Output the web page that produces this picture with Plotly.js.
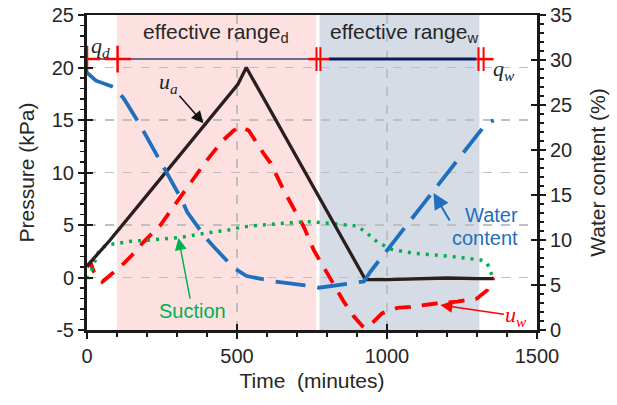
<!DOCTYPE html>
<html><head><meta charset="utf-8">
<script src="https://cdn.plot.ly/plotly-3.0.1.min.js"></script>
<style>html,body{margin:0;padding:0;background:#fff}#chart{width:617px;height:405px}</style>
</head><body><div id="chart"></div>
<script>
// ---- data (time in minutes) ----
const uaTime = [0, 75, 200, 389, 490, 503, 531, 928, 1000, 1100, 1200, 1300, 1355];
const uaKPa  = [1.1, 3.5, 7.85, 14.4, 18.0, 18.4, 20.0, -0.2, -0.2, -0.1, -0.05, -0.1, -0.1];

const uwTime = [0, 12, 22, 51, 89, 123, 156, 189, 245, 315, 367, 395, 451, 489, 509, 539, 589, 612, 656, 723, 756, 812, 856, 889, 917, 928, 945, 984, 1034, 1078, 1156, 1234, 1300, 1334, 1345, 1356];
const uwKPa  = [1.0, 1.4, 0.6, -0.4, 0.5, 1.35, 2.3, 3.4, 5.0, 7.8, 9.9, 11.0, 13.0, 14.0, 14.4, 14.0, 11.8, 10.9, 8.3, 4.8, 2.6, -0.24, -2.3, -3.7, -4.6, -4.8, -4.5, -3.4, -2.9, -2.8, -2.5, -2.3, -2.0, -1.2, -0.4, 0.0];

const wcTime = [0, 15, 30, 89, 123, 173, 195, 245, 267, 317, 334, 392, 421, 489, 532, 623, 678, 745, 773, 823, 923, 945, 1006, 1034, 1095, 1128, 1217, 1289, 1306, 1334, 1356];
const wcPct  = [28.6, 28.1, 27.7, 27.0, 25.7, 23.0, 21.7, 18.9, 17.4, 14.4, 13.1, 10.4, 9.3, 6.9, 6.0, 5.4, 5.2, 4.9, 4.7, 4.9, 5.4, 6.5, 9.1, 10.4, 13.0, 14.4, 18.1, 21.1, 21.9, 23.0, 23.3];

const suTime = [0, 6, 23, 32, 42, 67, 95, 147, 200, 306, 389, 489, 512, 601, 723, 745, 812, 901, 934, 967, 1012, 1089, 1201, 1312, 1334, 1345, 1350];
const suKPa  = [0.0, 0.0, 1.3, 2.0, 2.7, 3.1, 3.25, 3.45, 3.55, 3.8, 4.2, 4.6, 4.8, 5.05, 5.3, 5.3, 5.15, 4.9, 4.2, 3.4, 2.7, 2.3, 2.05, 1.67, 1.35, 0.55, 0.2];

// tick labels
const timeTicks = [0, 500, 1000, 1500];
const timeTickText = ['0', '500', '1000', '1500'];
const pressureTicks = [-5, 0, 5, 10, 15, 20, 25];
const pressureTickText = ['-5', '0', '5', '10', '15', '20', '25'];
const wcTicks = [0, 5, 10, 15, 20, 25, 30, 35];
const wcTickText = ['0', '5', '10', '15', '20', '25', '30', '35'];

// effective ranges and q bar
const rangeD = [100, 764];
const rangeW = [775, 1308];
const qLevel = 20.8;
const qThinX = [0, 740];
const qThickX = [806, 1297];
const qdCrossX = [0, 102];
const redSegA = [738, 808];
const redSegB = [1295, 1355];
const dblBarX = [765, 778, 1305, 1322];

const traces = [
  {x: uwTime, y: uwKPa, mode: 'lines', line: {color: '#ff0000', width: 3.8, dash: '16px,11px'}, hoverinfo: 'skip'},
  {x: wcTime, y: wcPct, yaxis: 'y2', mode: 'lines', line: {color: '#1f6fbf', width: 3.8, dash: '30px,12px'}, hoverinfo: 'skip'},
  {x: suTime, y: suKPa, mode: 'lines', line: {color: '#00b050', width: 3.5, dash: '3px,6px'}, hoverinfo: 'skip'},
  {x: uaTime, y: uaKPa, mode: 'lines', line: {color: '#2b1e1e', width: 3.3}, hoverinfo: 'skip'},
  // q bar
  {x: qThinX, y: qThinX.map(() => qLevel), mode: 'lines', line: {color: '#3c3f7a', width: 1.5}, hoverinfo: 'skip'},
  {x: qThickX, y: qThickX.map(() => qLevel), mode: 'lines', line: {color: '#0b1a5c', width: 3}, hoverinfo: 'skip'},
  {x: redSegA, y: redSegA.map(() => qLevel), mode: 'lines', line: {color: '#ff0000', width: 2.5}, hoverinfo: 'skip'},
  {x: redSegB, y: redSegB.map(() => qLevel), mode: 'lines', line: {color: '#ff0000', width: 2.5}, hoverinfo: 'skip'},
  {x: qdCrossX, y: qdCrossX.map(() => qLevel), mode: 'markers', marker: {symbol: 'cross-thin', size: 19, line: {color: '#ff0000', width: 2.5}}, hoverinfo: 'skip'},
  {x: dblBarX, y: dblBarX.map(() => qLevel), mode: 'markers', marker: {symbol: 'line-ns', size: 17, line: {color: '#ff0000', width: 2}}, hoverinfo: 'skip'},
  // dummy traces for inside tick axes
  {x: [null], y: [null], xaxis: 'x2', yaxis: 'y3', hoverinfo: 'skip'},
  {x: [null], y: [null], xaxis: 'x', yaxis: 'y4', hoverinfo: 'skip'}
];

const axCol = '#1a1a1a';
const layout = {
  width: 617, height: 405,
  margin: {l: 87, r: 80, t: 15, b: 75},
  paper_bgcolor: '#ffffff', plot_bgcolor: 'rgba(0,0,0,0)',
  showlegend: false,
  font: {family: 'Liberation Sans, Arial, sans-serif', size: 20, color: '#262626'},
  xaxis: {
    range: [0, 1500], tickmode: 'array', tickvals: timeTicks, ticktext: timeTickText,
    ticks: 'outside', ticklen: 6, tickwidth: 2, tickcolor: axCol,
    minor: {tickmode: 'linear', tick0: 0, dtick: 100, ticks: 'outside', ticklen: 4, tickwidth: 1.5, tickcolor: axCol, showgrid: false},
    showline: true, linewidth: 2.5, linecolor: axCol, mirror: true,
    showgrid: true, gridcolor: '#bfbfbf', griddash: 'dash', gridwidth: 1.5, zeroline: false,
    title: {text: 'Time  (minutes)', font: {size: 21}, standoff: 8}, automargin: false
  },
  xaxis2: {
    overlaying: 'x', anchor: 'y', range: [0, 1500], tick0: 0, dtick: 500, ticks: 'inside', ticklen: 6, tickwidth: 2, tickcolor: axCol,
    showticklabels: false, showgrid: false, showline: false, zeroline: false
  },
  yaxis: {
    range: [-5, 25], tickmode: 'array', tickvals: pressureTicks, ticktext: pressureTickText,
    ticks: 'outside', ticklen: 6, tickwidth: 2, tickcolor: axCol,
    minor: {tickmode: 'linear', tick0: 0, dtick: 1, ticks: 'outside', ticklen: 4, tickwidth: 1.5, tickcolor: axCol, showgrid: false},
    showline: true, linewidth: 3, linecolor: axCol,
    showgrid: true, gridcolor: '#bfbfbf', griddash: 'dash', gridwidth: 1.5, zeroline: false,
    title: {text: 'Pressure (kPa)', font: {size: 21}, standoff: 12}, automargin: false
  },
  yaxis2: {
    overlaying: 'y', side: 'right', anchor: 'x', range: [0, 35], tickmode: 'array', tickvals: wcTicks, ticktext: wcTickText,
    ticks: 'outside', ticklen: 6, tickwidth: 2, tickcolor: axCol,
    minor: {tickmode: 'linear', tick0: 0, dtick: 1, ticks: 'outside', ticklen: 4, tickwidth: 1.5, tickcolor: axCol, showgrid: false},
    showline: true, linewidth: 3, linecolor: axCol, showgrid: false, zeroline: false,
    title: {text: 'Water content (%)', font: {size: 21}, standoff: 20}, automargin: false
  },
  yaxis3: {
    overlaying: 'y', side: 'left', anchor: 'x', range: [-5, 25], tick0: 0, dtick: 5, ticks: 'inside', ticklen: 6, tickwidth: 2, tickcolor: axCol,
    showticklabels: false, showgrid: false, showline: false, zeroline: false
  },
  yaxis4: {
    overlaying: 'y', side: 'right', anchor: 'x', range: [0, 35], tick0: 0, dtick: 5, ticks: 'inside', ticklen: 6, tickwidth: 2, tickcolor: axCol,
    showticklabels: false, showgrid: false, showline: false, zeroline: false
  },
  shapes: [
    {type: 'rect', xref: 'x', yref: 'paper', x0: rangeD[0], x1: rangeD[1], y0: 0, y1: 1, fillcolor: '#fde1e1', line: {width: 0}, layer: 'below'},
    {type: 'rect', xref: 'x', yref: 'paper', x0: rangeW[0], x1: rangeW[1], y0: 0, y1: 1, fillcolor: '#d6dce5', line: {width: 0}, layer: 'below'}
  ],
  annotations: [
    {x: 430, y: 23.3, xref: 'x', yref: 'y', text: 'effective range<sub>d</sub>', showarrow: false, font: {size: 21, color: '#262626'}},
    {x: 1056, y: 23.3, xref: 'x', yref: 'y', text: 'effective range<sub>w</sub>', showarrow: false, font: {size: 21, color: '#262626'}},
    {x: 8, y: 22.0, xref: 'x', yref: 'y', xanchor: 'left', text: '<i>q<sub>d</sub></i>', showarrow: false, font: {family: 'Liberation Serif, serif', size: 22, color: '#262626'}},
    {x: 1345, y: 19.8, xref: 'x', yref: 'y', xanchor: 'left', text: '<i>q<sub>w</sub></i>', showarrow: false, font: {family: 'Liberation Serif, serif', size: 22, color: '#262626'}},
    {x: 1348, y: 5.95, xref: 'x', yref: 'y', text: 'Water', showarrow: false, font: {size: 20, color: '#1f6fbf'}},
    {x: 1328, y: 3.76, xref: 'x', yref: 'y', text: 'content', showarrow: false, font: {size: 20, color: '#1f6fbf'}},
    // labels with arrows (x,y = arrow head; ax,ay = label centre offset)
    {x: 388, y: 14.7, xref: 'x', yref: 'y', ax: -35, ay: -40, text: '<i>u<sub>a</sub></i>', showarrow: true, arrowhead: 2, arrowsize: 1.6, arrowwidth: 1.5, arrowcolor: '#111111', font: {family: 'Liberation Serif, serif', size: 22, color: '#262626'}},
    {x: 305, y: 3.76, xref: 'x', yref: 'y', ax: 14, ay: 73, text: 'Suction', showarrow: true, arrowhead: 2, arrowsize: 1.6, arrowwidth: 1.5, arrowcolor: '#00b050', font: {size: 20, color: '#00b050'}},
    {x: 1178, y: -2.62, xref: 'x', yref: 'y', ax: 76, ay: 11, text: '<i>u<sub>w</sub></i>', showarrow: true, arrowhead: 2, arrowsize: 1.6, arrowwidth: 1.5, arrowcolor: '#ff0000', font: {family: 'Liberation Serif, serif', size: 22, color: '#ff0000'}},
    {x: 1155, y: 8.05, xref: 'x', yref: 'y', ax: 17, ay: 29, text: '', showarrow: true, arrowhead: 2, arrowsize: 1.6, arrowwidth: 2, arrowcolor: '#1f6fbf'}
  ]
};

Plotly.newPlot('chart', traces, layout, {displayModeBar: false, staticPlot: true});
</script>
</body></html>
